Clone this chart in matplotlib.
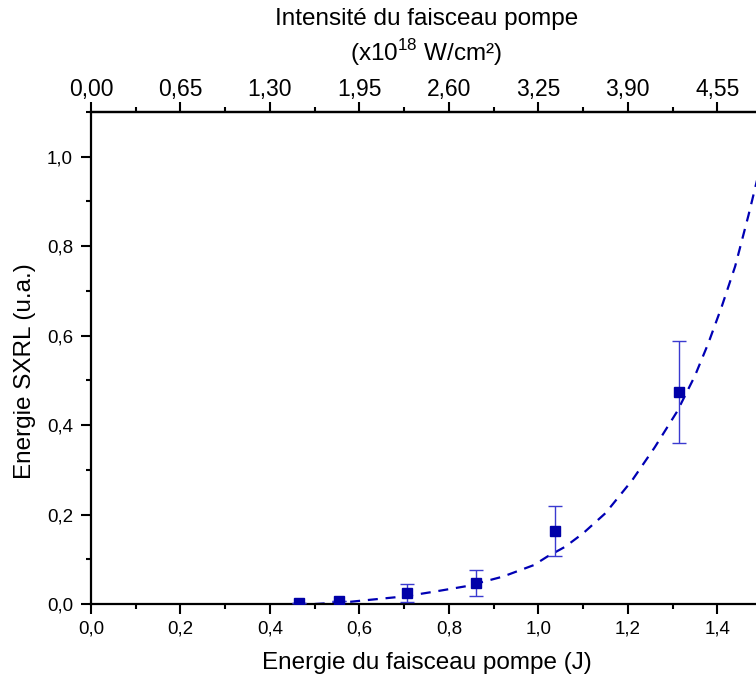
import matplotlib
matplotlib.use("Agg")
import matplotlib.pyplot as plt
from matplotlib.ticker import FuncFormatter, MultipleLocator, FixedLocator

plt.rcParams['font.family'] = ['Liberation Sans', 'DejaVu Sans']
plt.rcParams['mathtext.fontset'] = 'custom'
plt.rcParams['mathtext.rm'] = 'Liberation Sans'

# data points
energy = [0.466, 0.555, 0.706, 0.861, 1.038, 1.315]
sxrl = [0.003, 0.007, 0.025, 0.047, 0.164, 0.474]
err = [0.0, 0.0, 0.020, 0.028, 0.056, 0.114]

# fitted curve
fit_x = [0.50, 0.55, 0.58, 0.63, 0.68, 0.72, 0.77, 0.84, 0.92, 0.99, 1.02, 1.06,
         1.10, 1.15, 1.21, 1.26, 1.31, 1.35, 1.38, 1.41, 1.44, 1.47, 1.49, 1.50]
fit_y = [0.000, 0.003, 0.005, 0.010, 0.015, 0.020, 0.028, 0.040, 0.061, 0.087, 0.106, 0.128,
         0.158, 0.203, 0.277, 0.35, 0.43, 0.51, 0.583, 0.665, 0.755, 0.87, 0.952, 1.0]

x_ticks = [0.0, 0.2, 0.4, 0.6, 0.8, 1.0, 1.2, 1.4]
y_ticks = [0.0, 0.2, 0.4, 0.6, 0.8, 1.0]
top_ticks = [0.00, 0.65, 1.30, 1.95, 2.60, 3.25, 3.90, 4.55]
factor = 3.25

fig = plt.figure(figsize=(7.56, 6.86), dpi=100)
ax = fig.add_axes([91/756, 1 - 604/686, (762 - 91)/756, (604 - 112)/686])

ax.plot(fit_x, fit_y, linestyle=(0, (4.5, 3.5)), color='#0000b4', lw=1.6, zorder=2)
ax.errorbar(energy, sxrl, yerr=err, fmt='s', color='#0000a8', ms=7.5,
            ecolor='#3a3ad0', elinewidth=1.0, capsize=5, capthick=1.0, zorder=3)

ax.set_xlim(0, 1.5)
ax.set_ylim(0, 1.1)

ax.xaxis.set_major_locator(FixedLocator(x_ticks))
ax.xaxis.set_minor_locator(MultipleLocator(0.1))
ax.yaxis.set_major_locator(FixedLocator(y_ticks))
ax.yaxis.set_minor_locator(MultipleLocator(0.1))
fmt1 = FuncFormatter(lambda v, p: f"{v:.1f}".replace('.', ','))
ax.xaxis.set_major_formatter(fmt1)
ax.yaxis.set_major_formatter(fmt1)

for s in ['left', 'bottom', 'top', 'right']:
    ax.spines[s].set_linewidth(1.6)
ax.tick_params(which='major', direction='out', length=7, width=1.5, labelsize=13.5, pad=5)
ax.tick_params(axis='y', which='major', pad=6)
ax.tick_params(which='minor', direction='out', length=3.5, width=1.5)

ax.set_xlabel("Energie du faisceau pompe (J)", fontsize=17.5, labelpad=10)
ax.set_ylabel("Energie SXRL (u.a.)", fontsize=17.5)
ax.yaxis.set_label_coords(-0.082, 0.4736)

sec = ax.secondary_xaxis('top', functions=(lambda x: x * factor, lambda x: x / factor))
sec.xaxis.set_major_locator(FixedLocator(top_ticks))
sec.xaxis.set_minor_locator(MultipleLocator(0.325))
sec.xaxis.set_major_formatter(FuncFormatter(lambda v, p: f"{v:.2f}".replace('.', ',')))
sec.tick_params(which='major', direction='out', length=7, width=1.5, labelsize=16.5, pad=1)
sec.tick_params(which='minor', direction='out', length=3.5, width=1.5)
sec.spines['top'].set_linewidth(1.6)
sec.set_xlabel("Intensité du faisceau pompe\n(x10$^{\\mathregular{18}}$ W/cm²)",
               fontsize=17.5, labelpad=12, linespacing=1.32)

fig.savefig("out.png", dpi=100)
